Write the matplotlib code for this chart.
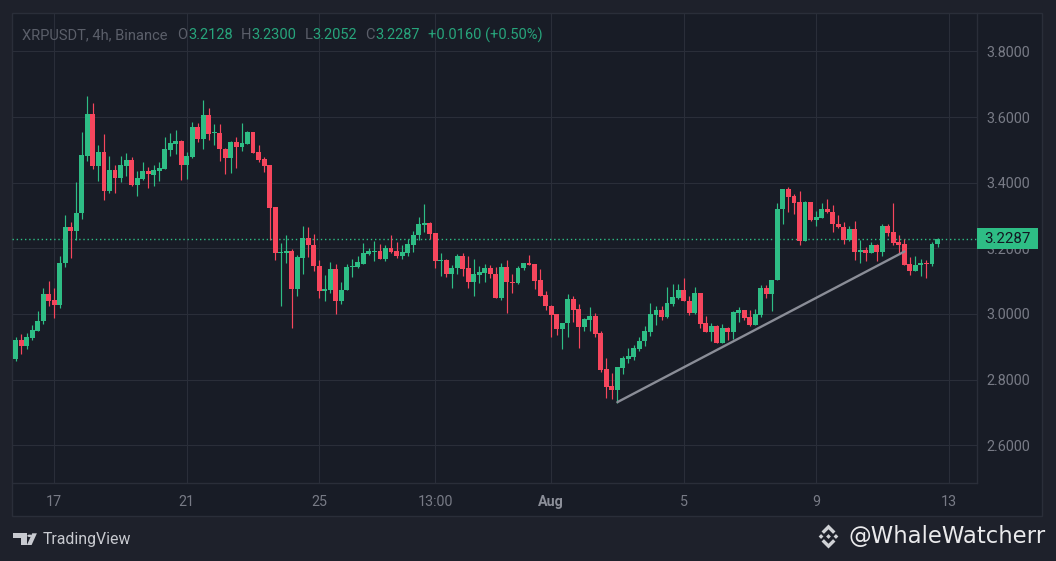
import matplotlib
matplotlib.use("Agg")
import matplotlib.pyplot as plt
import matplotlib.dates as mdates
import matplotlib.transforms as mtrans
from matplotlib.patches import Rectangle, Polygon, Circle
from matplotlib.ticker import FormatStrFormatter
import pandas as pd

# ---------------- data (XRPUSDT 4h candles) ----------------
start_time = "2025-07-15 20:00"
opens = [2.864, 2.921, 2.902, 2.927, 2.949, 2.977, 3.062, 3.041, 3.026, 3.154,
         3.264, 3.252, 3.307, 3.482, 3.609, 3.451, 3.493, 3.375, 3.438, 3.415,
         3.450, 3.469, 3.393, 3.412, 3.435, 3.424, 3.435, 3.442, 3.499, 3.518,
         3.527, 3.453, 3.478, 3.570, 3.533, 3.606, 3.551, 3.551, 3.502, 3.475,
         3.524, 3.508, 3.518, 3.554, 3.493, 3.472, 3.453, 3.325, 3.185, 3.185,
         3.193, 3.075, 3.170, 3.230, 3.211, 3.147, 3.069, 3.074, 3.138, 3.038,
         3.072, 3.144, 3.144, 3.153, 3.184, 3.190, 3.193, 3.166, 3.202, 3.193,
         3.178, 3.187, 3.209, 3.239, 3.270, 3.276, 3.248, 3.160, 3.163, 3.123,
         3.141, 3.178, 3.141, 3.098, 3.120, 3.126, 3.141, 3.123, 3.049, 3.144,
         3.098, 3.095, 3.139, 3.156, 3.153, 3.104, 3.058, 3.025, 3.000, 2.954,
         2.971, 3.046, 3.015, 2.961, 2.982, 2.994, 2.942, 2.832, 2.781, 2.769,
         2.836, 2.863, 2.870, 2.894, 2.916, 2.946, 2.997, 3.012, 2.992, 3.031,
         3.050, 3.073, 3.040, 3.004, 3.064, 2.972, 2.946, 2.963, 2.912, 2.957,
         2.946, 3.004, 3.012, 2.992, 2.967, 2.997, 3.080, 3.062, 3.102, 3.319,
         3.380, 3.358, 3.340, 3.221, 3.340, 3.286, 3.292, 3.321, 3.312, 3.275,
         3.266, 3.224, 3.260, 3.188, 3.194, 3.185, 3.209, 3.188, 3.267, 3.249,
         3.218, 3.212, 3.151, 3.130, 3.148, 3.156, 3.151, 3.2128]
highs = [2.931, 2.939, 2.941, 2.967, 3.009, 3.080, 3.101, 3.080, 3.175, 3.300,
         3.279, 3.401, 3.554, 3.665, 3.643, 3.515, 3.548, 3.481, 3.453, 3.481,
         3.490, 3.478, 3.435, 3.463, 3.447, 3.453, 3.463, 3.539, 3.551, 3.560,
         3.530, 3.493, 3.585, 3.582, 3.652, 3.628, 3.579, 3.579, 3.505, 3.527,
         3.539, 3.582, 3.557, 3.554, 3.515, 3.478, 3.453, 3.325, 3.217, 3.239,
         3.199, 3.181, 3.267, 3.264, 3.245, 3.163, 3.120, 3.157, 3.153, 3.098,
         3.153, 3.166, 3.178, 3.215, 3.202, 3.221, 3.212, 3.209, 3.242, 3.218,
         3.209, 3.227, 3.254, 3.294, 3.334, 3.279, 3.248, 3.187, 3.166, 3.150,
         3.184, 3.187, 3.178, 3.166, 3.147, 3.153, 3.150, 3.144, 3.156, 3.165,
         3.121, 3.147, 3.156, 3.181, 3.153, 3.138, 3.071, 3.028, 3.000, 2.973,
         3.061, 3.055, 3.031, 2.988, 3.022, 3.003, 2.948, 2.865, 2.819, 2.839,
         2.871, 2.897, 2.906, 2.930, 2.963, 3.034, 3.024, 3.024, 3.083, 3.092,
         3.092, 3.110, 3.055, 3.083, 3.064, 2.994, 2.972, 2.966, 2.969, 2.960,
         3.009, 3.021, 3.012, 3.012, 3.015, 3.089, 3.089, 3.104, 3.337, 3.380,
         3.386, 3.364, 3.376, 3.343, 3.340, 3.315, 3.337, 3.349, 3.331, 3.300,
         3.279, 3.269, 3.282, 3.224, 3.205, 3.218, 3.212, 3.275, 3.275, 3.337,
         3.239, 3.228, 3.172, 3.178, 3.168, 3.165, 3.220, 3.2300]
lows = [2.857, 2.878, 2.894, 2.921, 2.949, 2.970, 3.023, 2.989, 3.017, 3.142,
        3.170, 3.225, 3.289, 3.467, 3.441, 3.405, 3.347, 3.369, 3.369, 3.402,
        3.420, 3.390, 3.359, 3.408, 3.384, 3.390, 3.405, 3.441, 3.482, 3.487,
        3.407, 3.410, 3.475, 3.524, 3.502, 3.530, 3.515, 3.466, 3.426, 3.429,
        3.444, 3.496, 3.518, 3.490, 3.463, 3.432, 3.225, 3.164, 3.023, 3.154,
        2.958, 3.056, 3.121, 3.173, 3.130, 3.047, 3.038, 3.064, 3.001, 3.029,
        3.072, 3.111, 3.141, 3.153, 3.181, 3.160, 3.166, 3.160, 3.187, 3.169,
        3.166, 3.178, 3.190, 3.224, 3.251, 3.227, 3.141, 3.117, 3.111, 3.080,
        3.123, 3.117, 3.080, 3.055, 3.095, 3.098, 3.108, 3.047, 3.043, 3.004,
        3.065, 3.090, 3.133, 3.150, 3.077, 3.055, 3.012, 2.930, 2.937, 2.894,
        2.930, 2.976, 2.897, 2.949, 2.949, 2.931, 2.824, 2.744, 2.741, 2.729,
        2.818, 2.851, 2.860, 2.888, 2.903, 2.934, 2.966, 2.980, 2.989, 3.025,
        3.044, 3.038, 2.998, 3.001, 2.958, 2.946, 2.918, 2.912, 2.912, 2.921,
        2.924, 2.974, 2.980, 2.964, 2.967, 2.992, 3.047, 3.010, 3.102, 3.273,
        3.310, 3.304, 3.209, 3.221, 3.283, 3.267, 3.292, 3.307, 3.249, 3.261,
        3.212, 3.221, 3.163, 3.154, 3.160, 3.185, 3.160, 3.176, 3.237, 3.209,
        3.182, 3.148, 3.120, 3.130, 3.117, 3.108, 3.145, 3.2052]
closes = [2.921, 2.902, 2.929, 2.951, 2.979, 3.062, 3.038, 3.026, 3.156, 3.264,
          3.252, 3.309, 3.484, 3.609, 3.451, 3.493, 3.375, 3.438, 3.415, 3.453,
          3.469, 3.393, 3.414, 3.435, 3.427, 3.438, 3.444, 3.502, 3.521, 3.527,
          3.453, 3.481, 3.570, 3.533, 3.606, 3.548, 3.554, 3.502, 3.475, 3.524,
          3.508, 3.521, 3.554, 3.490, 3.469, 3.450, 3.323, 3.185, 3.188, 3.193,
          3.075, 3.173, 3.230, 3.209, 3.145, 3.069, 3.077, 3.138, 3.038, 3.074,
          3.144, 3.147, 3.157, 3.187, 3.193, 3.193, 3.166, 3.202, 3.190, 3.178,
          3.190, 3.212, 3.242, 3.273, 3.276, 3.245, 3.160, 3.163, 3.123, 3.141,
          3.178, 3.138, 3.098, 3.123, 3.129, 3.141, 3.121, 3.049, 3.144, 3.096,
          3.095, 3.141, 3.156, 3.150, 3.101, 3.055, 3.023, 2.998, 2.954, 2.973,
          3.046, 3.013, 2.961, 2.985, 2.994, 2.940, 2.830, 2.778, 2.769, 2.839,
          2.865, 2.872, 2.897, 2.918, 2.947, 3.000, 3.012, 2.992, 3.034, 3.052,
          3.073, 3.038, 3.004, 3.064, 2.970, 2.946, 2.963, 2.912, 2.957, 2.946,
          3.006, 3.012, 2.989, 2.967, 3.000, 3.080, 3.062, 3.104, 3.321, 3.380,
          3.356, 3.338, 3.221, 3.340, 3.286, 3.294, 3.321, 3.310, 3.273, 3.264,
          3.224, 3.260, 3.188, 3.194, 3.185, 3.209, 3.188, 3.267, 3.246, 3.215,
          3.209, 3.148, 3.130, 3.150, 3.156, 3.151, 3.214, 3.2287]

price_ticks = [2.6, 2.8, 3.0, 3.2, 3.4, 3.6, 3.8]
time_ticks = ["2025-07-17 00:00", "2025-07-21 00:00", "2025-07-25 00:00", "2025-07-28 12:00",
              "2025-08-01 00:00", "2025-08-05 00:00", "2025-08-09 00:00", "2025-08-13 00:00"]
time_labels = ["17", "21", "25", "13:00", "Aug", "5", "9", "13"]
trend_times = ["2025-08-03 00:00", "2025-08-11 16:00"]
trend_prices = [2.731, 3.190]
change_text = "+0.0160 (+0.50%)"

# ---------------- styling ----------------
UP = "#2ebd85"
DOWN = "#f6465d"
BG = "#181c26"
OUTER = "#1e212b"
GRID = "#2a2e39"
TXT = "#787b86"
W, H = 1056, 561

plt.rcParams["font.family"] = ["Roboto", "DejaVu Sans"]

fig = plt.figure(figsize=(W / 100, H / 100), dpi=100, facecolor=OUTER)

def fx(px):
    return px / W

def fy(py):
    return 1 - py / H

# chart frame
fig.patches.append(Rectangle((fx(12), fy(516)), fx(1042) - fx(12), fy(12.5) - fy(516),
                             transform=fig.transFigure, facecolor=BG,
                             edgecolor="#2a2e39", lw=1.0, zorder=-10))

ax = fig.add_axes([fx(12), fy(483), fx(976.7) - fx(12), fy(13.5) - fy(483)])
ax.patch.set_visible(False)

times = pd.date_range(start_time, periods=len(opens), freq="4h")
ref = mdates.date2num(pd.Timestamp("2025-07-17"))
ax.set_xlim(ref - 1.277, ref + 27.85)
ax.set_ylim(2.4847, 3.9155)

cols = [UP if c >= o else DOWN for o, c in zip(opens, closes)]
bottoms = [min(o, c) for o, c in zip(opens, closes)]
heights = [max(abs(c - o), 0.0028) for o, c in zip(opens, closes)]

ax.vlines(times, lows, highs, colors=cols, lw=0.85, zorder=3)
ax.bar(times, heights, bottom=bottoms, width=0.148, color=cols, lw=0, zorder=4)

# current price dotted line
last = closes[-1]
ax.axhline(last, color=UP, lw=1.0, ls=(0, (1, 2)), zorder=2)

# trend line drawing
ax.plot(pd.to_datetime(trend_times), trend_prices, color="#8a8d97", lw=1.7,
        solid_capstyle="round", zorder=5)

# axes / grid
ax.yaxis.tick_right()
ax.set_yticks(price_ticks)
ax.yaxis.set_major_formatter(FormatStrFormatter("%.4f"))
ax.set_xticks(pd.to_datetime(time_ticks))
ax.set_xticklabels(time_labels)
ax.tick_params(axis="y", length=0, pad=7.3, labelcolor=TXT, labelsize=10.4)
ax.tick_params(axis="x", length=0, pad=8.6, labelcolor=TXT, labelsize=10.3)
for lab in ax.get_xticklabels():
    if lab.get_text() == "Aug":
        lab.set_fontweight("bold")
        lab.set_color("#8c8f99")
ax.grid(True, color=GRID, lw=0.8, zorder=0)
ax.set_axisbelow(True)
for s in ["top", "left"]:
    ax.spines[s].set_visible(False)
for s in ["right", "bottom"]:
    ax.spines[s].set_color("#2a2e39")
    ax.spines[s].set_linewidth(1.0)

# price label box (covers the 3.2000 label, as in the reference)
blend = mtrans.blended_transform_factory(fig.transFigure, ax.transData)
box_h = 21 / 327.8
fig.patches.append(Rectangle((fx(976.5), last - box_h / 2), fx(1037.5) - fx(976.5), box_h,
                             transform=blend, facecolor=UP, edgecolor="none", zorder=10))
fig.text(fx(1007), last, f"{last:.4f}", transform=blend, ha="center", va="center",
         color="#131722", fontsize=10.8, zorder=11)

# header legend
renderer = fig.canvas.get_renderer()
GRAY_H = "#5b5f6a"
GREEN_H = "#27a57c"
segments = [("XRPUSDT, 4h, Binance", GRAY_H, 10),
            ("O", GRAY_H, 0.5), (f"{opens[-1]:.4f}", GREEN_H, 8),
            ("H", GRAY_H, 0.5), (f"{highs[-1]:.4f}", GREEN_H, 8),
            ("L", GRAY_H, 0.5), (f"{lows[-1]:.4f}", GREEN_H, 8),
            ("C", GRAY_H, 0.5), (f"{closes[-1]:.4f}", GREEN_H, 8),
            (change_text, GREEN_H, 0)]
xp = 22
for txt, col, gap in segments:
    t = fig.text(fx(xp), fy(39.3), txt, color=col, fontsize=10.5, ha="left", va="baseline")
    bb = t.get_window_extent(renderer)
    xp = bb.x1 + gap

# footer: TradingView logo + text
LOGO = "#c8cad0"
def logo_poly(pts):
    fig.patches.append(Polygon([(fx(x), fy(y)) for x, y in pts], closed=True,
                               transform=fig.transFigure, facecolor=LOGO,
                               edgecolor="none", zorder=12))
logo_poly([(12.7, 533.3), (26.7, 533.3), (26.7, 545.0), (21.0, 545.0),
           (21.0, 538.3), (12.7, 538.3)])
fig.patches.append(Circle((fx(29.6), fy(535.8)), fx(2.3), transform=fig.transFigure,
                          facecolor=LOGO, edgecolor="none", zorder=12))
logo_poly([(32.2, 533.3), (36.9, 533.3), (31.6, 545.0), (26.9, 545.0)])
fig.text(fx(42.5), fy(539.5), "TradingView", color=LOGO, fontsize=11.4,
         ha="left", va="center")

# Binance-like icon
cx, cy, s = 828.5, 536.5, 12.0
def poly(pts, **kw):
    P = [(fx(cx + px * s), fy(cy - py * s)) for px, py in pts]
    fig.patches.append(Polygon(P, closed=True, transform=fig.transFigure,
                               facecolor="#d0d2d6", edgecolor="none", zorder=12, **kw))
d = 0.2
poly([(0, d), (d, 0), (0, -d), (-d, 0)])
poly([(-0.62, d), (-0.62 + d, 0), (-0.62, -d), (-0.62 - d, 0)])
poly([(0.62, d), (0.62 + d, 0), (0.62, -d), (0.62 - d, 0)])
poly([(0, 1.0), (0.58, 0.42), (0.38, 0.22), (0, 0.6), (-0.38, 0.22), (-0.58, 0.42)])
poly([(0, -1.0), (0.58, -0.42), (0.38, -0.22), (0, -0.6), (-0.38, -0.22), (-0.58, -0.42)])

fig.text(fx(848), fy(536.5), "@WhaleWatcherr", color="#eaeaec", fontsize=16.4,
         ha="left", va="center", family=["DejaVu Sans"])

fig.savefig("out.png", dpi=100, facecolor=OUTER)
